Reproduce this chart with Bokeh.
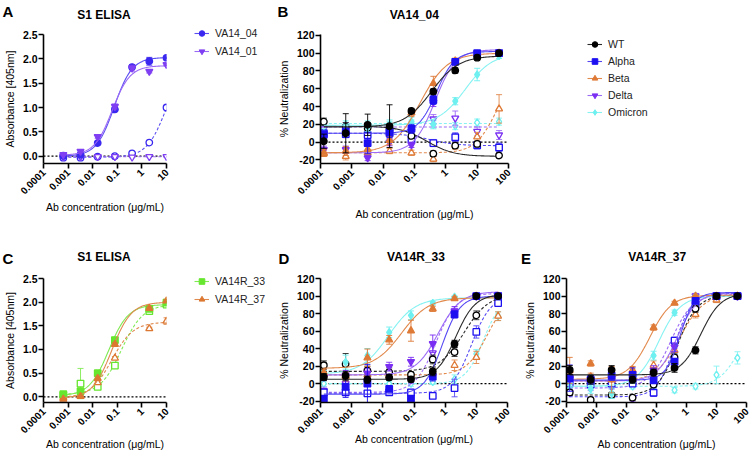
import math
import numpy as np
from bokeh.plotting import figure
from bokeh.layouts import row, column
from bokeh.models import (Range1d, FixedTicker, NumeralTickFormatter, CustomJSTickFormatter,
                          Span, Legend, LegendItem)
from bokeh.core.properties import value
from bokeh.embed import file_html
from bokeh.resources import INLINE

FONT = "Liberation Sans"

# ------------------------------------------------------------------ data
conc_elisa = [0.00064, 0.0032, 0.016, 0.08, 0.4, 2, 10]
conc_elisa_c = [0.00064, 0.0032, 0.016, 0.08, 2, 10]
conc_neut = [0.000128, 0.00064, 0.0032, 0.016, 0.08, 0.4, 2, 10, 50]

x_ticks_elisa = [0.0001, 0.001, 0.01, 0.1, 1, 10]
x_ticks_neut = [0.0001, 0.001, 0.01, 0.1, 1, 10, 100]
y_ticks_elisa = [0.0, 0.5, 1.0, 1.5, 2.0, 2.5]
y_ticks_neut = [-20, 0, 20, 40, 60, 80, 100, 120]

panel_letters = ["A", "B", "C", "D", "E"]
panel_titles = ["S1 ELISA", "VA14_04", "S1 ELISA", "VA14R_33", "VA14R_37"]
legend_a = ["VA14_04", "VA14_01"]
legend_c = ["VA14R_33", "VA14R_37"]
variants = ["WT", "Alpha", "Beta", "Delta", "Omicron"]

# fit parameters: [bottom, top, EC50, Hill]
# Panel A  (S1 ELISA; open symbols = control antigen)
a_va14_04 = [0.01, 0.03, 0.27, 0.96, 1.83, 1.95, 2.02]
a_va14_04_err = [0.01, 0.02, 0.02, 0.04, 0.05, 0.08, 0.02]
a_va14_04_ctrl = [-0.03, -0.03, -0.01, 0.00, 0.06, 0.28, 1.00]
a_va14_04_ctrl_err = [0.01, 0.01, 0.01, 0.01, 0.02, 0.02, 0.04]
a_va14_01 = [0.03, 0.10, 0.40, 1.02, 1.81, 1.74, 1.88]
a_va14_01_err = [0.01, 0.03, 0.03, 0.05, 0.06, 0.03, 0.02]
a_va14_01_ctrl = [-0.01, -0.01, -0.01, -0.01, -0.02, -0.01, -0.01]
a_va14_01_ctrl_err = [0.01, 0.01, 0.01, 0.01, 0.01, 0.01, 0.01]
a_fit_va14_04 = [0.0, 2.03, 0.075, 1.2]
a_fit_va14_04_ctrl = [-0.02, 2.0, 10.0, 1.1]
a_fit_va14_01 = [0.02, 1.86, 0.062, 1.2]
a_fit_va14_01_ctrl = [-0.01, -0.01, 1.0, 1.0]

# Panel C  (S1 ELISA)
c_r33 = [0.055, 0.12, 0.50, 1.20, 1.86, 1.99]
c_r33_err = [0.02, 0.03, 0.03, 0.03, 0.04, 0.03]
c_r33_ctrl = [0.035, 0.28, 0.21, 0.66, 1.81, 1.95]
c_r33_ctrl_err = [0.02, 0.32, 0.03, 0.03, 0.04, 0.03]
c_r37 = [-0.05, 0.01, 0.39, 1.11, 1.87, 2.03]
c_r37_err = [0.01, 0.02, 0.03, 0.03, 0.03, 0.03]
c_r37_ctrl = [-0.02, 0.02, 0.30, 0.82, 1.44, 1.60]
c_r37_ctrl_err = [0.01, 0.01, 0.02, 0.03, 0.03, 0.07]
c_fit_r33 = [0.02, 1.95, 0.045, 1.1]
c_fit_r33_ctrl = [0.05, 1.95, 0.15, 1.0]
c_fit_r37 = [-0.03, 2.0, 0.06, 1.1]
c_fit_r37_ctrl = [-0.02, 1.58, 0.06, 1.0]

# Panel B  (VA14_04 neutralization)
b_wt = [1, 10, 19.5, 18, 35, 56.8, 80.6, 95, 100]
b_wt_err = [8, 22, 12, 24, 3, 3, 3, 2, 1]
b_wt_ctrl = [23, 17, 16, 15, 7, -13, -4, -2, -15]
b_wt_ctrl_err = [4, 5, 5, 5, 3, 3, 3, 3, 2]
b_alpha = [8.3, 12, -1, 11.3, 15, 47.4, 90.3, 100, 100]
b_alpha_err = [5, 4, 12, 6, 5, 5, 3, 2, 1]
b_alpha_ctrl = [10, 9, 8, 10, 3, -1, 5.5, -3.5, -6]
b_alpha_ctrl_err = [4, 4, 4, 4, 4, 4, 5, 4, 5]
b_beta = [-12, -10, -8, 2, 33, 66, 91.4, 99, 100]
b_beta_err = [4, 5, 5, 5, 4, 8, 3, 1, 1]
b_beta_ctrl = [-13, -16, -12, -10, -12, -19, -3, 6, 37.4]
b_beta_ctrl_err = [3, 4, 3, 3, 3, 3, 5, 5, 16]
b_delta = [-8.5, -8.5, -17.8, 0, -3, 45, 90, 100, 101]
b_delta_err = [4, 4, 3, 4, 3, 5, 3, 2, 1]
b_delta_ctrl = [15, 17, 16, 14, 12, 26, 27, 12, 8]
b_delta_ctrl_err = [5, 5, 5, 5, 5, 5, 8, 5, 5]
b_omicron = [10, 15, 17, 20, 23, 20, 46, 76, 97]
b_omicron_err = [5, 5, 5, 5, 5, 5, 4, 7, 3]
b_omicron_ctrl = [22, 20, 20, 19, 21, 20, 18, 22, 23]
b_omicron_ctrl_err = [4, 4, 4, 4, 4, 4, 4, 4, 4]
b_fit_wt = [17, 97, 0.35, 1.0]
b_fit_wt_ctrl = [18, -16, 0.25, 1.0]
b_fit_alpha = [10, 102, 0.5, 1.5]
b_fit_alpha_ctrl = [10, -4, 0.3, 1.0]
b_fit_beta = [-12, 100, 0.15, 1.0]
b_fit_beta_ctrl = [-12, 80, 40, 1.3]
b_fit_delta = [-12, 104, 0.45, 1.3]
b_fit_delta_ctrl = [17, 17, 1.0, 1.0]
b_fit_omicron = [19, 100, 4.2, 1.0]
b_fit_omicron_ctrl = [21, 21, 1.0, 1.0]

# Panel D  (VA14R_33 neutralization)
d_wt = [7.5, 9, 4.5, 7, 5, 14, 45.5, 100, 100]
d_wt_err = [4, 5, 4, 3, 3, 5, 4, 2, 1]
d_wt_ctrl = [21, 22.4, 15, 13, 10.4, 27.6, 36, 78, 100]
d_wt_ctrl_err = [5, 12, 5, 5, 3, 5, 5, 5, 2]
d_alpha = [-17, -3.7, 0, -6, -17, 8, 79, 100, 100]
d_alpha_err = [2, 12, 22, 3, 2, 5, 4, 2, 1]
d_alpha_ctrl = [-10, -10, -11, -10, -10, -14, -5, 59, 92]
d_alpha_ctrl_err = [3, 3, 3, 3, 3, 3, 10, 7, 3]
d_beta = [12.7, 8, 29.5, 50, 60.4, 85.4, 97, 100, 100]
d_beta_err = [4, 5, 10, 5, 12, 3, 2, 1, 1]
d_beta_ctrl = [10, 9, 10, 9, 10, 12, 21, 30, 77]
d_beta_ctrl_err = [3, 3, 3, 3, 3, 5, 6, 7, 5]
d_delta = [7.5, 10, 12, 19.4, 25, 45.5, 83, 100, 101]
d_delta_err = [4, 5, 5, 5, 5, 10, 5, 2, 1]
d_delta_ctrl = [-8, 0, 3, 10, 5, 35, 81, 100, 100]
d_delta_ctrl_err = [4, 4, 4, 5, 5, 8, 5, 2, 2]
d_omicron = [11, 24.6, 32, 58.6, 78, 92, 99, 100, 100]
d_omicron_err = [4, 8, 8, 6, 5, 2, 1, 1, 1]
d_omicron_ctrl = [0, 0, 1, 0, 0, 2, 5, 34, 77]
d_omicron_ctrl_err = [3, 3, 3, 3, 3, 3, 5, 5, 5]
d_fit_wt = [5, 102, 2.2, 1.4]
d_fit_wt_ctrl = [14, 102, 4.0, 1.1]
d_fit_alpha = [-12, 100, 0.8, 1.5]
d_fit_alpha_ctrl = [-11, 100, 7.0, 1.4]
d_fit_beta = [17.5, 98, 0.04, 1.0]
d_fit_beta_ctrl = [10, 100, 22, 1.3]
d_fit_delta = [10, 105, 0.6, 1.2]
d_fit_delta_ctrl = [-10, 103, 0.5, 1.3]
d_fit_omicron = [11, 98, 0.015, 1.0]
d_fit_omicron_ctrl = [0, 100, 17, 1.5]

# Panel E  (VA14R_37 neutralization)
e_wt = [15.6, 4.5, 15.6, 4.5, 12.6, 18, 38, 100, 100]
e_wt_err = [5, 5, 5, 4, 4, 5, 4, 2, 1]
e_wt_ctrl = [-10, -18.6, -13, -16, -1, 30, 85.5, 100, 100]
e_wt_ctrl_err = [3, 3, 3, 3, 3, 4, 4, 2, 1]
e_alpha = [6.3, 4.5, 9, 10, 3.7, 25, 94.4, 100, 100]
e_alpha_err = [15, 5, 5, 8, 3, 3, 3, 2, 1]
e_alpha_ctrl = [0, -1, 0, 0, -10.4, 49, 90, 100, 100]
e_alpha_ctrl_err = [3, 3, 3, 3, 4, 4, 4, 2, 1]
e_beta = [15, 23, 4.5, 15.6, 64, 92, 100, 100, 100]
e_beta_err = [15, 3, 15, 4, 3, 2, 1, 1, 1]
e_beta_ctrl = [10, 8, 7, 5, 21, 38, 79, 95.5, 100]
e_beta_ctrl_err = [4, 4, 4, 4, 5, 5, 4, 3, 1]
e_delta = [5, 5, 6, 8, 15.5, 41.6, 97, 100, 100]
e_delta_err = [3, 3, 3, 3, 5, 5, 3, 2, 1]
e_delta_ctrl = [-10.4, -5, -3, -17, 12, 45, 100, 100, 100]
e_delta_ctrl_err = [3, 3, 3, 3, 4, 5, 3, 2, 1]
e_omicron = [0.7, -6, -11, 4.5, 32, 81, 100, 100, 100]
e_omicron_err = [5, 5, 6, 4, 5, 3, 1, 1, 1]
e_omicron_ctrl = [-3, -2, -3, -3, -3, -7.4, -3, 10, 29.4]
e_omicron_ctrl_err = [3, 3, 3, 3, 3, 3, 3, 10, 7]
e_fit_wt = [10, 103, 3.0, 1.3]
e_fit_wt_ctrl = [-13, 101, 0.5, 1.3]
e_fit_alpha = [4, 104, 0.6, 1.8]
e_fit_alpha_ctrl = [-15, 103, 0.4, 1.5]
e_fit_beta = [5, 101, 0.06, 1.2]
e_fit_beta_ctrl = [3, 102, 0.6, 1.1]
e_fit_delta = [3, 104, 0.5, 1.3]
e_fit_delta_ctrl = [-5, 102, 0.3, 1.2]
e_fit_omicron = [-3, 100, 0.12, 1.2]
e_fit_omicron_ctrl = [-3, 70, 50, 1.3]

# ------------------------------------------------------------------ styles
STY = {
    "WT": ("#000000", "#2a2a2a", "circle", 6.5),
    "Alpha": ("#1c0ff0", "#5548f3", "square", 6.5),
    "Beta": ("#de7a36", "#e2894c", "triangle", 7),
    "Delta": ("#7a2ff2", "#9c6cf6", "inverted_triangle", 7),
    "Omicron": ("#6ff0f0", "#86f2f2", "diamond", 7.5),
    "VA14_04": ("#3a28f0", "#5a4df2", "circle", 6.5),
    "VA14_01": ("#7f3ff2", "#9a6af5", "inverted_triangle", 7),
    "VA14R_33": ("#66e62e", "#7fea52", "square", 6.5),
    "VA14R_37": ("#dc7832", "#e08a4f", "triangle", 7),
}
# control fits drawn as solid lines (everything else with open symbols is dashed)
SOLID_CTRL = {("B", "WT")}

# page geometry (layout starts at the page's top-left corner).
# Plots sharing a row share their top / bottom borders.
RIGHT = 754
H1_B = 24      # bottom of first header strip
ROW2 = 229     # top of second header strip
H2_B = 268     # bottom of second header strip
BOTTOM = 452
R1_FT, R1_FB = 34, 163     # frame top / bottom, row 1
R2_FT, R2_FB = 278, 404    # frame top / bottom, row 2
SPLIT_L = 185              # left plots end / legend strip start
SPLIT_R = 270              # legend strip end / middle plots start

GEOM = {
    "A": dict(x0=0, y0=H1_B, w=SPLIT_L, h=ROW2 - H1_B, fl=41, fr=166, ft=R1_FT, fb=R1_FB,
              xr=(1e-4, 10), yr=(-0.15, 2.5)),
    "B": dict(x0=SPLIT_R, y0=H1_B, w=560 - SPLIT_R, h=ROW2 - H1_B, fl=320, fr=508, ft=R1_FT, fb=R1_FB,
              xr=(1e-4, 100), yr=(-24, 121)),
    "C": dict(x0=0, y0=H2_B, w=SPLIT_L, h=BOTTOM - H2_B, fl=41, fr=166, ft=R2_FT, fb=R2_FB,
              xr=(1e-4, 10), yr=(-0.12, 2.5)),
    "D": dict(x0=SPLIT_R, y0=H2_B, w=520 - SPLIT_R, h=BOTTOM - H2_B, fl=320, fr=507, ft=R2_FT, fb=R2_FB,
              xr=(1e-4, 100), yr=(-21.5, 120)),
    "E": dict(x0=520, y0=H2_B, w=RIGHT - 520, h=BOTTOM - H2_B, fl=562, fr=746, ft=R2_FT, fb=R2_FB,
              xr=(1e-4, 100), yr=(-21.5, 120)),
}


def make_fig(key, xticks, yticks, yfmt, ylabel, xlab_standoff):
    g = GEOM[key]
    p = figure(width=g["w"], height=g["h"], x_axis_type="log",
               x_range=Range1d(*g["xr"]), y_range=Range1d(*g["yr"]),
               output_backend="svg", toolbar_location=None,
               min_border_left=g["fl"] - g["x0"], min_border_right=g["x0"] + g["w"] - g["fr"],
               min_border_top=g["ft"] - g["y0"], min_border_bottom=g["y0"] + g["h"] - g["fb"])
    p.outline_line_color = None
    p.xgrid.visible = False
    p.ygrid.visible = False
    p.xaxis.ticker = FixedTicker(ticks=xticks)
    p.xaxis.formatter = CustomJSTickFormatter(code="return tick.toString()")
    p.yaxis.ticker = FixedTicker(ticks=yticks)
    p.yaxis.formatter = NumeralTickFormatter(format=yfmt)
    p.xaxis.major_label_orientation = math.pi / 4
    p.xaxis.axis_label = "Ab concentration (\u03bcg/mL)"
    p.yaxis.axis_label = ylabel
    for ax in (p.xaxis[0], p.yaxis[0]):
        ax.axis_line_width = 1.6
        ax.axis_line_color = "black"
        ax.major_tick_line_width = 1.6
        ax.major_tick_line_color = "black"
        ax.major_tick_out = 5
        ax.major_tick_in = 0
        ax.minor_tick_out = 0
        ax.minor_tick_in = 0
        ax.major_label_text_font = FONT
        ax.major_label_text_font_style = "bold"
        ax.major_label_text_color = "black"
        ax.axis_label_text_font = FONT
        ax.axis_label_text_font_size = "10.5px"
        ax.axis_label_text_font_style = "normal"
        ax.axis_label_text_color = "black"
    p.yaxis.major_label_text_font_size = "10.5px"
    p.xaxis.major_label_text_font_size = "10px"
    p.yaxis.major_label_standoff = 1
    p.xaxis.major_label_standoff = 2
    p.yaxis.axis_label_standoff = 4
    p.xaxis.axis_label_standoff = xlab_standoff
    p.add_layout(Span(location=0, dimension="width", line_color="black",
                      line_dash="2 2", line_width=1.2, level="underlay"))
    return p


def blank(x0, y0, w, h, left=0, top=0, bottom=0, flip=True):
    # plain drawing area whose data units are page pixels
    yr = Range1d(y0 + h, y0) if flip else Range1d(0, h)
    p = figure(width=w, height=h, x_range=Range1d(x0, x0 + w), y_range=yr,
               output_backend="svg", toolbar_location=None,
               x_axis_location=None, y_axis_location=None,
               min_border_left=left, min_border_right=0, min_border_top=top,
               min_border_bottom=bottom)
    p.outline_line_color = None
    p.xgrid.visible = False
    p.ygrid.visible = False
    return p


def fit_curve(conc, fit):
    xs = np.logspace(math.log10(min(conc)), math.log10(max(conc)), 160)
    b, t, ec, h = fit
    return xs, b + (t - b) / (1.0 + (ec / xs) ** h)


def draw_series(p, conc, y, err, fit, style, filled, solid=False):
    mcol, lcol, marker, msize = style
    xs, ys = fit_curve(conc, fit)
    p.line(xs, ys, line_color=lcol, line_width=1.1,
           line_dash="solid" if (filled or solid) else "3 2")
    yv = np.array(y, dtype=float)
    ev = np.array(err, dtype=float)
    bar_col = mcol if filled else lcol
    p.segment(conc, yv - ev, conc, yv + ev, line_color=bar_col, line_width=1, line_alpha=0.9)
    p.scatter(list(conc) + list(conc), list(yv - ev) + list(yv + ev), marker="dash",
              size=6, line_color=bar_col, line_width=1, line_alpha=0.9)
    p.scatter(conc, y, marker=marker, size=msize,
              fill_color=mcol if filled else "white", line_color=mcol, line_width=1.3)


def legend_fig(x0, y0, w, h, labels, left, top, bottom, margin, spacing):
    p = blank(x0, y0, w, h, left=left, top=top, bottom=bottom, flip=False)
    hidden_x = [x0 - 500, x0 - 400]     # legend proxies, outside the visible range
    hidden_y = [-500, -500]
    items = []
    for lab in labels:
        mcol, lcol, marker, msize = STY[lab]
        lr = p.line(hidden_x, hidden_y, line_color=lcol, line_width=1.1)
        sr = p.scatter(hidden_x[:1], hidden_y[:1], marker=marker, size=msize,
                       fill_color=mcol, line_color=mcol)
        items.append(LegendItem(label=lab, renderers=[lr, sr]))
    leg = Legend(items=items, location="top_left", orientation="vertical", glyph_width=15,
                 glyph_height=14, label_height=14, label_standoff=6, spacing=spacing,
                 padding=0, margin=margin, border_line_color=None, background_fill_alpha=0,
                 label_text_font=FONT, label_text_font_size="10.5px",
                 label_text_color="#222222")
    p.add_layout(leg)
    return column(p)


def header(y0, h, letters, letter_xy, titles, title_xy):
    p = blank(0, y0, RIGHT, h)
    p.text(x=[q[0] for q in letter_xy], y=[q[1] for q in letter_xy], text=letters,
           text_font=value(FONT), text_font_size=value("15px"), text_font_style="bold",
           text_align="left", text_baseline="middle", text_color="black")
    p.text(x=[q[0] for q in title_xy], y=[q[1] for q in title_xy], text=titles,
           text_font=value(FONT), text_font_size=value("12px"), text_font_style="bold",
           text_align="center", text_baseline="middle", text_color="black")
    return p


# ------------------------------------------------------------------ panels A / C
pa = make_fig("A", x_ticks_elisa, y_ticks_elisa, "0.0", "Absorbance [405nm]", 0)
draw_series(pa, conc_elisa, a_va14_04_ctrl, a_va14_04_ctrl_err, a_fit_va14_04_ctrl, STY["VA14_04"], False)
draw_series(pa, conc_elisa, a_va14_01_ctrl, a_va14_01_ctrl_err, a_fit_va14_01_ctrl, STY["VA14_01"], False)
draw_series(pa, conc_elisa, a_va14_04, a_va14_04_err, a_fit_va14_04, STY["VA14_04"], True)
draw_series(pa, conc_elisa, a_va14_01, a_va14_01_err, a_fit_va14_01, STY["VA14_01"], True)

pc = make_fig("C", x_ticks_elisa, y_ticks_elisa, "0.0", "Absorbance [405nm]", -2)
draw_series(pc, conc_elisa_c, c_r33_ctrl, c_r33_ctrl_err, c_fit_r33_ctrl, STY["VA14R_33"], False)
draw_series(pc, conc_elisa_c, c_r37_ctrl, c_r37_ctrl_err, c_fit_r37_ctrl, STY["VA14R_37"], False)
draw_series(pc, conc_elisa_c, c_r33, c_r33_err, c_fit_r33, STY["VA14R_33"], True)
draw_series(pc, conc_elisa_c, c_r37, c_r37_err, c_fit_r37, STY["VA14R_37"], True)

# ------------------------------------------------------------------ neutralization panels
neut_data = {
    "B": {
        "WT": (b_wt, b_wt_err, b_fit_wt, b_wt_ctrl, b_wt_ctrl_err, b_fit_wt_ctrl),
        "Alpha": (b_alpha, b_alpha_err, b_fit_alpha, b_alpha_ctrl, b_alpha_ctrl_err, b_fit_alpha_ctrl),
        "Beta": (b_beta, b_beta_err, b_fit_beta, b_beta_ctrl, b_beta_ctrl_err, b_fit_beta_ctrl),
        "Delta": (b_delta, b_delta_err, b_fit_delta, b_delta_ctrl, b_delta_ctrl_err, b_fit_delta_ctrl),
        "Omicron": (b_omicron, b_omicron_err, b_fit_omicron, b_omicron_ctrl, b_omicron_ctrl_err, b_fit_omicron_ctrl),
    },
    "D": {
        "WT": (d_wt, d_wt_err, d_fit_wt, d_wt_ctrl, d_wt_ctrl_err, d_fit_wt_ctrl),
        "Alpha": (d_alpha, d_alpha_err, d_fit_alpha, d_alpha_ctrl, d_alpha_ctrl_err, d_fit_alpha_ctrl),
        "Beta": (d_beta, d_beta_err, d_fit_beta, d_beta_ctrl, d_beta_ctrl_err, d_fit_beta_ctrl),
        "Delta": (d_delta, d_delta_err, d_fit_delta, d_delta_ctrl, d_delta_ctrl_err, d_fit_delta_ctrl),
        "Omicron": (d_omicron, d_omicron_err, d_fit_omicron, d_omicron_ctrl, d_omicron_ctrl_err, d_fit_omicron_ctrl),
    },
    "E": {
        "WT": (e_wt, e_wt_err, e_fit_wt, e_wt_ctrl, e_wt_ctrl_err, e_fit_wt_ctrl),
        "Alpha": (e_alpha, e_alpha_err, e_fit_alpha, e_alpha_ctrl, e_alpha_ctrl_err, e_fit_alpha_ctrl),
        "Beta": (e_beta, e_beta_err, e_fit_beta, e_beta_ctrl, e_beta_ctrl_err, e_fit_beta_ctrl),
        "Delta": (e_delta, e_delta_err, e_fit_delta, e_delta_ctrl, e_delta_ctrl_err, e_fit_delta_ctrl),
        "Omicron": (e_omicron, e_omicron_err, e_fit_omicron, e_omicron_ctrl, e_omicron_ctrl_err, e_fit_omicron_ctrl),
    },
}


def neut_panel(key, xlab_standoff):
    p = make_fig(key, x_ticks_neut, y_ticks_neut, "0", "% Neutralization", xlab_standoff)
    for v in reversed(variants):
        y, e, f, yc, ec, fc = neut_data[key][v]
        draw_series(p, conc_neut, yc, ec, fc, STY[v], False, solid=(key, v) in SOLID_CTRL)
    for v in reversed(variants):
        y, e, f, yc, ec, fc = neut_data[key][v]
        draw_series(p, conc_neut, y, e, f, STY[v], True)
    return p


pb = neut_panel("B", 7)
pd_ = neut_panel("D", -7)
pe = neut_panel("E", -2)

# ------------------------------------------------------------------ legends and headers
la = legend_fig(SPLIT_L, H1_B, SPLIT_R - SPLIT_L, ROW2 - H1_B, legend_a,
                194 - SPLIT_L, 2, ROW2 - R1_FB, 0, 4)
lb = legend_fig(560, H1_B, RIGHT - 560, ROW2 - H1_B, variants,
                587 - 560 - 3, R1_FT - H1_B, ROW2 - R1_FB, 3, 3)
lc = legend_fig(SPLIT_L, H2_B, SPLIT_R - SPLIT_L, BOTTOM - H2_B, legend_c,
                194 - SPLIT_L, 6, BOTTOM - R2_FB, 0, 4)

h1 = header(0, H1_B, panel_letters[0:2], [(2, 11), (277, 10.5)],
            panel_titles[0:2], [(103.5, 14), (413.8, 14)])
h2 = header(ROW2, H2_B - ROW2, panel_letters[2:5], [(2, 257.5), (278, 257.5), (520.5, 257.5)],
            panel_titles[2:5], [(103.5, 256.7), (415.5, 256.7), (656.7, 256.7)])

root = column(h1, row(pa, la, pb, lb), h2, row(pc, lc, pd_, pe))

open("out.html", "w").write(file_html(root, INLINE))
